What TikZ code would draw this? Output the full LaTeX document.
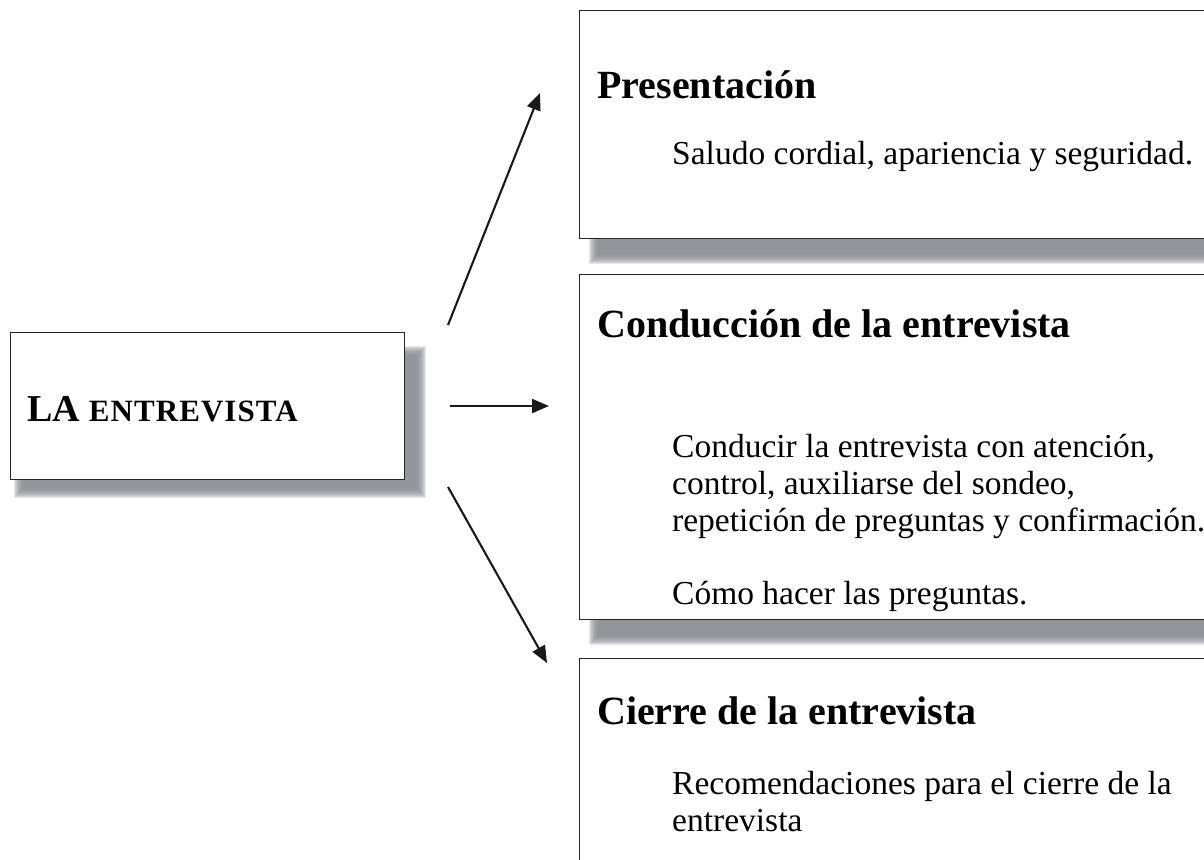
\documentclass[tikz,border=0pt]{standalone}
\usepackage{fontspec}
\setmainfont{Liberation Serif}
\usetikzlibrary{arrows.meta}
\definecolor{shadowgray}{RGB}{136,137,142}
\tikzset{
  box/.style={draw=black!85, line width=1.4pt, fill=white, inner sep=0pt, anchor=north west},
  conn/.style={line width=2.1pt, draw=black!90, -{Triangle[length=17pt,width=14pt]}},
  ttl/.style={anchor=base west, font=\bfseries\fontsize{40}{44}\selectfont, inner sep=0pt},
  bodytxt/.style={anchor=base west, font=\fontsize{33.5}{36}\selectfont, inner sep=0pt},
  shadowlayer/.style={fill=shadowgray, opacity=0.2},
}
\newcommand{\softshadow}[4]{%
  \foreach \i in {0,...,9}{
    \fill[shadowlayer] (#1+\i,#2+\i) rectangle (#3-\i,#4-\i);
  }}
\begin{document}
\begin{tikzpicture}[x=1pt,y=-1pt]
\useasboundingbox (0,0) rectangle (1204,859);
\clip (0,0) rectangle (1204,859);
\fill[white] (0,0) rectangle (1204,859);
% shadows
\softshadow{14}{346}{426}{498}
\softshadow{589}{24}{1240}{264}
\softshadow{589}{288}{1240}{645}
\softshadow{589}{672}{1240}{920}
% boxes
\node[box, minimum width=394pt, minimum height=147pt] (main) at (10,332) {};
\node[box, minimum width=660pt, minimum height=228pt] (box1) at (579,10) {};
\node[box, minimum width=660pt, minimum height=345pt] (box2) at (579,274) {};
\node[box, minimum width=660pt, minimum height=260pt] (box3) at (579,658) {};
% main label
\node[anchor=base west, inner sep=0pt, font=\bfseries] (mt) at (27,421)
  {\fontsize{38}{38}\selectfont LA\fontsize{31}{31}\selectfont\addfontfeatures{LetterSpace=3.5}\ ENTREVISTA};
% box texts
\node[ttl] (t1) at (597,98) {Presentación};
\node[bodytxt] (b1) at (672,164) {Saludo cordial, apariencia y seguridad.};
\node[ttl] (t2) at (597,337) {Conducción de la entrevista};
\node[bodytxt] (b2a) at (672,457) {Conducir la entrevista con atención,};
\node[bodytxt] (b2b) at (672,494) {control, auxiliarse del sondeo,};
\node[bodytxt] (b2c) at (672,531) {repetición de preguntas y confirmación.};
\node[bodytxt] (b2d) at (672,604) {Cómo hacer las preguntas.};
\node[ttl] (t3) at (597,724) {Cierre de la entrevista};
\node[bodytxt] (b3a) at (672,794) {Recomendaciones para el cierre de la};
\node[bodytxt] (b3b) at (672,831) {entrevista};
% connectors
\coordinate (s1) at (448,325);
\coordinate (e1) at (540,93);
\coordinate (s2) at (450,406);
\coordinate (e2) at (549,406);
\coordinate (s3) at (448,487);
\coordinate (e3) at (547,663);
\draw[conn] (s1) -- (e1);
\draw[conn] (s2) -- (e2);
\draw[conn] (s3) -- (e3);
\end{tikzpicture}
\end{document}
